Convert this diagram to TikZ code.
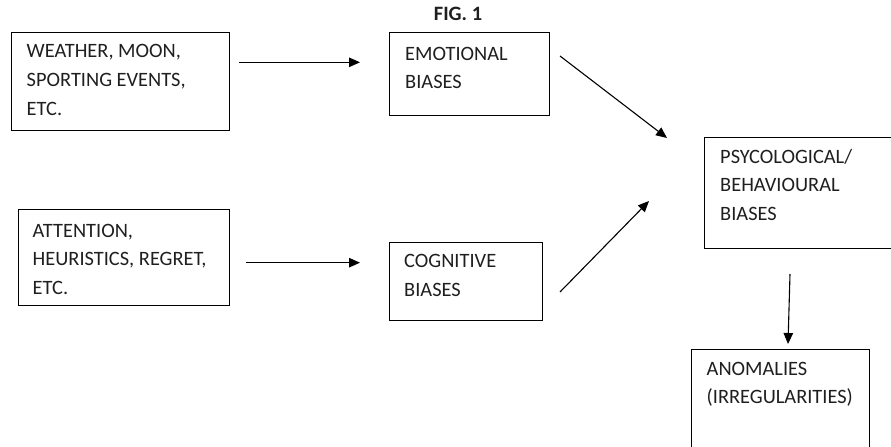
\documentclass[tikz,border=0pt]{standalone}
\usepackage{fontspec}
\setmainfont{Carlito}
\usetikzlibrary{arrows.meta}
\begin{document}
\begin{tikzpicture}[x=1bp,y=-1bp,
  box/.style={draw=black,line width=1.2bp,rectangle,inner sep=0pt,anchor=north west},
  txt/.style={anchor=north west,inner sep=0pt,align=left,text=black!88,
    font={\fontsize{20.4bp}{28.8bp}\selectfont}},
  arr/.style={line width=1.1bp,-{Triangle[length=11bp,width=9.5bp]}}]
\useasboundingbox (0,0) rectangle (891,447);
\clip (0,0) rectangle (891,447);
\newcommand{\fl}{\rule{0pt}{16bp}}
% title
\node[anchor=base,inner sep=0pt,text=black!88,font={\fontsize{20.4bp}{24bp}\selectfont\bfseries}] (title) at (458,20.7) {FIG. 1};
% boxes
\node[box,minimum width=218bp,minimum height=98bp] (b1) at (11,32) {};
\node[box,minimum width=160bp,minimum height=83bp] (b2) at (389,32) {};
\node[box,minimum width=211bp,minimum height=96bp] (b3) at (18,209) {};
\node[box,minimum width=153bp,minimum height=78bp] (b4) at (389,242) {};
\node[box,minimum width=220bp,minimum height=111bp] (b5) at (704,137) {};
\node[box,minimum width=178bp,minimum height=130bp] (b6) at (691,349) {};
% texts
\node[txt] (t1) at (26.5,57.5-16) {\fl WEATHER, MOON,\\SPORTING EVENTS,\\ETC.};
\node[txt] (t2) at (405,60-16) {\fl EMOTIONAL\\BIASES};
\node[txt] (t3) at (32.5,237-16) {\fl ATTENTION,\\HEURISTICS, REGRET,\\ETC.};
\node[txt] (t4) at (404,267.3-16) {\fl COGNITIVE\\BIASES};
\node[txt] (t5) at (720,163-16) {\fl PSYCOLOGICAL/\\BEHAVIOURAL\\BIASES};
\node[txt] (t6) at (706.5,375-16) {\fl ANOMALIES\\(IRREGULARITIES)};
% arrow end points
\coordinate (a1s) at (239,62.3);
\coordinate (a1e) at (360,62.3);
\coordinate (a2s) at (246,262.7);
\coordinate (a2e) at (360,262.7);
\coordinate (a3s) at (560,56);
\coordinate (a3e) at (667,138);
\coordinate (a4s) at (560,292);
\coordinate (a4e) at (649,201);
\coordinate (a5s) at (790,274);
\coordinate (a5e) at (788,344);
\draw[arr] (a1s) -- (a1e);
\draw[arr] (a2s) -- (a2e);
\draw[arr] (a3s) -- (a3e);
\draw[arr] (a4s) -- (a4e);
\draw[arr] (a5s) -- (a5e);
\end{tikzpicture}
\end{document}
